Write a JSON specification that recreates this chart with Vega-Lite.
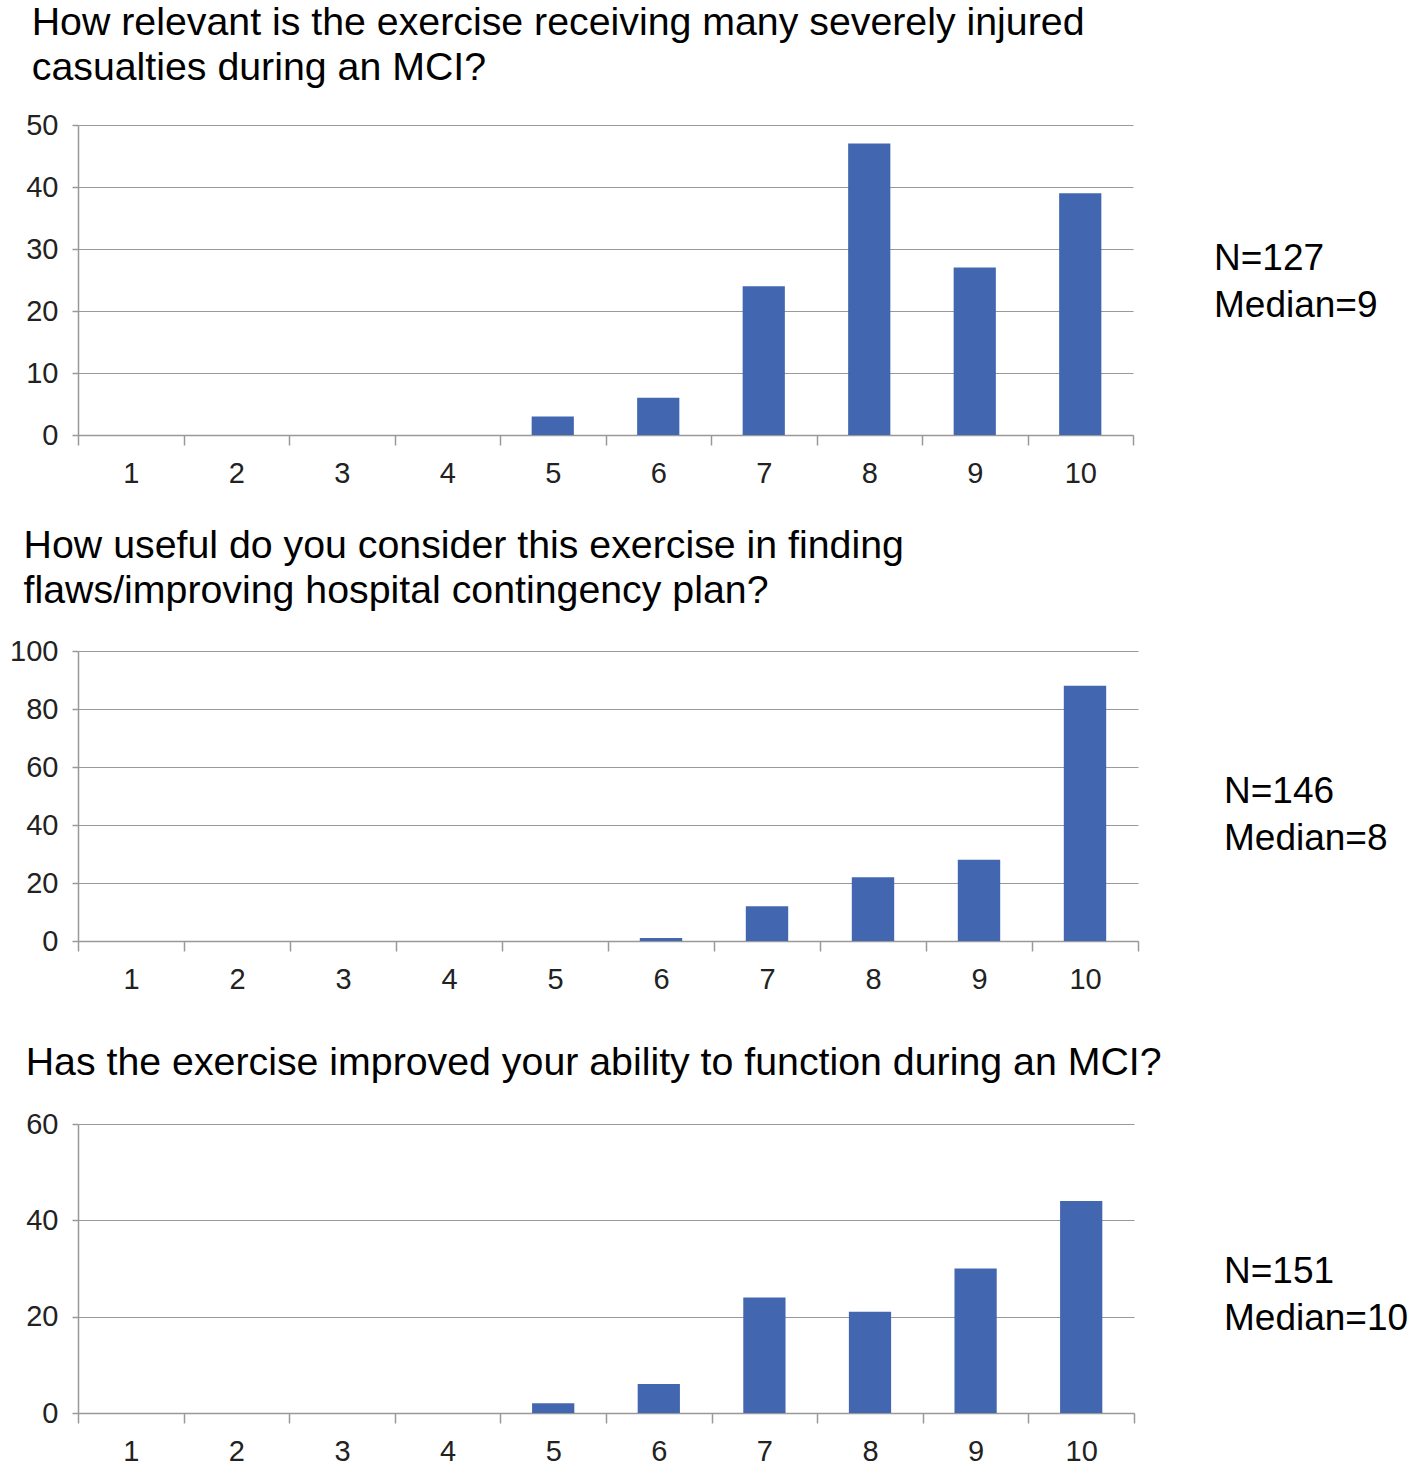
{
  "$schema": "https://vega.github.io/schema/vega-lite/v6.json",
  "padding": {"left": 9, "top": 3, "right": 0, "bottom": 0},
  "background": "white",
  "data": {"values": [
    {"panel": 1, "score": 1, "count": 0},
    {"panel": 1, "score": 2, "count": 0},
    {"panel": 1, "score": 3, "count": 0},
    {"panel": 1, "score": 4, "count": 0},
    {"panel": 1, "score": 5, "count": 3},
    {"panel": 1, "score": 6, "count": 6},
    {"panel": 1, "score": 7, "count": 24},
    {"panel": 1, "score": 8, "count": 47},
    {"panel": 1, "score": 9, "count": 27},
    {"panel": 1, "score": 10, "count": 39},
    {"panel": 2, "score": 1, "count": 0},
    {"panel": 2, "score": 2, "count": 0},
    {"panel": 2, "score": 3, "count": 0},
    {"panel": 2, "score": 4, "count": 0},
    {"panel": 2, "score": 5, "count": 0},
    {"panel": 2, "score": 6, "count": 1},
    {"panel": 2, "score": 7, "count": 12},
    {"panel": 2, "score": 8, "count": 22},
    {"panel": 2, "score": 9, "count": 28},
    {"panel": 2, "score": 10, "count": 88},
    {"panel": 3, "score": 1, "count": 0},
    {"panel": 3, "score": 2, "count": 0},
    {"panel": 3, "score": 3, "count": 0},
    {"panel": 3, "score": 4, "count": 0},
    {"panel": 3, "score": 5, "count": 2},
    {"panel": 3, "score": 6, "count": 6},
    {"panel": 3, "score": 7, "count": 24},
    {"panel": 3, "score": 8, "count": 21},
    {"panel": 3, "score": 9, "count": 30},
    {"panel": 3, "score": 10, "count": 44},
    {"panel": 11, "label": "N=127\nMedian=9"},
    {"panel": 12, "label": "N=146\nMedian=8"},
    {"panel": 13, "label": "N=151\nMedian=10"}
  ]},
  "spacing": 38,
  "vconcat": [
    {
      "spacing": 70,
      "hconcat": [
        {
          "width": 1055, "height": 310,
          "title": {"text": ["How relevant is the exercise receiving many severely injured", "casualties during an MCI?"], "dx": 6, "offset": 23},
          "transform": [{"filter": "datum.panel == 1"}],
          "mark": {"type": "bar", "width": {"band": 0.4}, "color": "#4366b0"},
          "encoding": {
            "x": {"field": "score", "type": "ordinal", "scale": {"paddingInner": 0, "paddingOuter": 0}, "axis": {"title": null}},
            "y": {"field": "count", "type": "quantitative", "scale": {"domain": [0, 50]}, "axis": {"title": null, "values": [0, 10, 20, 30, 40, 50]}}
          }
        },
        {
          "width": 20, "height": 310,
          "transform": [{"filter": "datum.panel == 11"}],
          "mark": {"type": "text", "align": "left", "baseline": "middle", "fontSize": 37, "font": "Liberation Sans", "lineBreak": "\n", "lineHeight": 47, "color": "black", "dy": -21},
          "encoding": {"text": {"field": "label"}}
        }
      ]
    },
    {
      "spacing": 70,
      "hconcat": [
        {
          "width": 1060, "height": 290,
          "title": {"text": ["How useful do you consider this exercise in finding", "flaws/improving hospital contingency plan?"], "dx": 14, "offset": 26},
          "transform": [{"filter": "datum.panel == 2"}],
          "mark": {"type": "bar", "width": {"band": 0.4}, "color": "#4366b0"},
          "encoding": {
            "x": {"field": "score", "type": "ordinal", "scale": {"paddingInner": 0, "paddingOuter": 0}, "axis": {"title": null, "minExtent": 64}},
            "y": {"field": "count", "type": "quantitative", "scale": {"domain": [0, 100]}, "axis": {"title": null, "values": [0, 20, 40, 60, 80, 100]}}
          }
        },
        {
          "width": 20, "height": 290,
          "transform": [{"filter": "datum.panel == 12"}],
          "mark": {"type": "text", "align": "left", "baseline": "middle", "fontSize": 37, "font": "Liberation Sans", "lineBreak": "\n", "lineHeight": 47, "color": "black", "dy": -4, "dx": 5},
          "encoding": {"text": {"field": "label"}}
        }
      ]
    },
    {
      "spacing": 62,
      "hconcat": [
        {
          "width": 1056, "height": 289,
          "title": {"text": "Has the exercise improved your ability to function during an MCI?", "dx": 0, "offset": 27},
          "transform": [{"filter": "datum.panel == 3"}],
          "mark": {"type": "bar", "width": {"band": 0.4}, "color": "#4366b0"},
          "encoding": {
            "x": {"field": "score", "type": "ordinal", "scale": {"paddingInner": 0, "paddingOuter": 0}, "axis": {"title": null}},
            "y": {"field": "count", "type": "quantitative", "scale": {"domain": [0, 60]}, "axis": {"title": null, "values": [0, 20, 40, 60]}}
          }
        },
        {
          "width": 20, "height": 289,
          "transform": [{"filter": "datum.panel == 13"}],
          "mark": {"type": "text", "align": "left", "baseline": "middle", "fontSize": 37, "font": "Liberation Sans", "lineBreak": "\n", "lineHeight": 47, "color": "black", "dy": 3, "dx": -26},
          "encoding": {"text": {"field": "label"}}
        }
      ]
    }
  ],
  "config": {
    "view": {"stroke": null},
    "font": "Liberation Sans",
    "title": {"font": "Liberation Sans", "fontSize": 39.3, "fontWeight": "normal", "anchor": "start", "frame": "bounds", "color": "black", "lineHeight": 45},
    "axis": {"labelFont": "Liberation Sans", "labelFontSize": 29, "labelColor": "#222", "domainColor": "#999", "tickColor": "#999", "gridColor": "#999", "domainWidth": 1.5, "tickWidth": 1.5, "gridWidth": 1.2},
    "axisX": {"labelAngle": 0, "tickBand": "extent", "grid": false, "tickSize": 10, "labelPadding": 14},
    "axisY": {"grid": true, "tickSize": 6, "labelPadding": 14, "domain": true}
  }
}
